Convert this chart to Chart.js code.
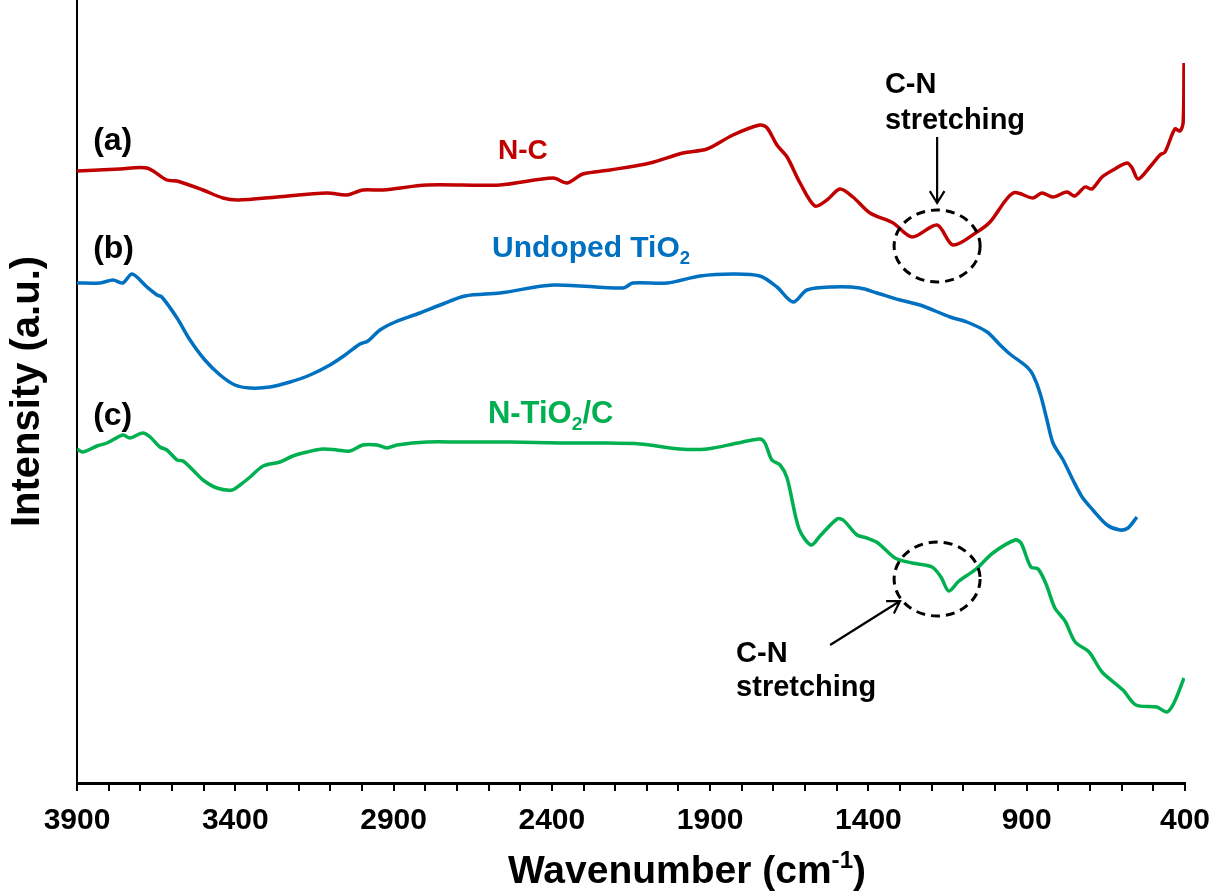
<!DOCTYPE html>
<html>
<head>
<meta charset="utf-8">
<title>FTIR spectra</title>
<script src="https://cdn.jsdelivr.net/npm/chart.js@4.4.1/dist/chart.umd.min.js"></script>
<style>
  body { margin: 0; background: #fff; }
  #wrap { width: 1214px; height: 896px; }
</style>
</head>
<body>
<div id="wrap"><canvas id="ftir" width="1214" height="896"></canvas></div>
<script>
const FONT = '"Liberation Sans", Arial, sans-serif';

// (a) N-C
const ncWave = [3900, 3764, 3679, 3616, 3584, 3502, 3439, 3391, 3268, 3110, 3047, 2997, 2933, 2794, 2564,
  2396, 2352, 2302, 2216, 2090, 1986, 1910, 1828, 1743, 1720, 1689, 1657, 1616, 1569, 1531, 1490, 1449,
  1395, 1322, 1262, 1183, 1133, 1057, 1016, 943, 880, 852, 817, 773, 748, 716, 694, 662, 627, 583, 567,
  548, 511, 479, 463, 432, 416, 406, 403];
const ncInt = [61.2, 61.4, 61.5, 60.3, 60.2, 59.3, 58.5, 58.3, 58.6, 59.0, 58.8, 59.3, 59.3, 59.8, 59.8,
  60.5, 60.0, 60.9, 61.3, 62.0, 63.0, 63.4, 64.8, 65.8, 65.5, 63.8, 62.6, 60.0, 57.7, 58.3, 59.4, 58.6,
  57.0, 56.0, 54.6, 55.8, 53.8, 55.1, 56.1, 59.0, 58.5, 59.0, 58.6, 59.1, 58.7, 59.6, 59.4, 60.6, 61.3, 62.0, 61.5,
  60.4, 61.6, 62.8, 63.1, 65.4, 65.2, 66.0, 72.0];

// (b) undoped TiO2
const tioWave = [3900, 3827, 3786, 3755, 3726, 3679, 3647, 3632, 3584, 3543, 3496, 3448, 3401, 3353, 3290,
  3227, 3164, 3101, 3053, 3006, 2981, 2943, 2895, 2817, 2753, 2674, 2564, 2396, 2175, 2144, 2036, 1932,
  1828, 1743, 1689, 1638, 1594, 1512, 1427, 1373, 1300, 1237, 1142, 1089, 1025, 984, 953, 899, 880, 858,
  836, 817, 785, 754, 725, 691, 646, 605, 580, 552];
const tioInt = [50.0, 50.0, 50.3, 50.0, 50.9, 49.6, 48.8, 48.6, 46.5, 44.3, 42.3, 40.8, 39.8, 39.5, 39.6,
  40.1, 40.8, 41.8, 42.8, 43.9, 44.2, 45.3, 46.1, 47.0, 47.8, 48.7, 49.0, 49.8, 49.5, 50.0, 50.0, 50.7,
  50.9, 50.7, 49.6, 48.1, 49.3, 49.6, 49.5, 49.0, 48.3, 47.8, 46.6, 46.1, 45.1, 43.8, 42.9, 41.6, 40.8, 39.0,
  36.3, 34.0, 32.3, 30.3, 28.6, 27.3, 25.8, 25.3, 25.5, 26.6];

// (c) N-TiO2/C
const ntcWave = [3900, 3881, 3837, 3805, 3755, 3733, 3692, 3669, 3638, 3616, 3584, 3565, 3534, 3502, 3458,
  3410, 3385, 3353, 3312, 3259, 3218, 3173, 3123, 3079, 3038, 2997, 2952, 2921, 2889, 2794, 2690, 2532,
  2374, 2248, 2122, 1995, 1910, 1812, 1743, 1727, 1705, 1679, 1657, 1619, 1581, 1553, 1499, 1480, 1436,
  1405, 1370, 1316, 1262, 1199, 1171, 1146, 1114, 1060, 1007, 937, 918, 887, 864, 839, 811, 779, 747,
  703, 662, 596, 555, 489, 457, 435, 403];
const ntcInt = [33.4, 33.1, 33.7, 34.0, 34.8, 34.5, 35.0, 34.6, 33.6, 33.3, 32.3, 32.2, 31.3, 30.3, 29.5,
  29.3, 29.8, 30.6, 31.7, 32.1, 32.7, 33.1, 33.4, 33.3, 33.2, 33.8, 33.8, 33.5, 33.8, 34.1, 34.1, 34.1,
  34.0, 34.0, 33.9, 33.4, 33.4, 34.0, 34.4, 34.0, 32.3, 31.8, 30.5, 25.4, 23.8, 24.7, 26.4, 26.3, 24.8,
  24.5, 24.0, 22.5, 22.0, 21.6, 20.6, 19.2, 20.2, 21.4, 23.0, 24.3, 24.0, 21.6, 21.4, 19.9, 17.5, 16.2, 14.1,
  13.1, 11.1, 9.3, 7.8, 7.6, 7.1, 8.0, 10.5];

// x axis: wavenumber, reversed
const waveMin = 400;
const waveMax = 3900;
const labelStep = 500;
const minorStep = 100;

const toPoints = (xs, ys) => xs.map((v, i) => ({ x: v, y: ys[i] }));

// draw text made of pieces; shift 1 = subscript, -1 = superscript
function richText(ctx, parts, x, y, size, color, align) {
  const small = size * 0.62;
  let total = 0;
  parts.forEach(([t, s]) => {
    ctx.font = 'bold ' + (s ? small : size) + 'px ' + FONT;
    total += ctx.measureText(t).width;
  });
  let cx = align === 'center' ? x - total / 2 : x;
  ctx.fillStyle = color;
  ctx.textBaseline = 'alphabetic';
  ctx.textAlign = 'left';
  parts.forEach(([t, s]) => {
    ctx.font = 'bold ' + (s ? small : size) + 'px ' + FONT;
    const dy = s === 1 ? size * 0.22 : s === -1 ? -size * 0.38 : 0;
    ctx.fillText(t, cx, y + dy);
    cx += ctx.measureText(t).width;
  });
}

function arrow(ctx, x1, y1, x2, y2) {
  const a = Math.atan2(y2 - y1, x2 - x1);
  const h = 14;
  ctx.beginPath();
  ctx.moveTo(x1, y1);
  ctx.lineTo(x2, y2);
  ctx.moveTo(x2 - h * Math.cos(a - 0.55), y2 - h * Math.sin(a - 0.55));
  ctx.lineTo(x2, y2);
  ctx.lineTo(x2 - h * Math.cos(a + 0.55), y2 - h * Math.sin(a + 0.55));
  ctx.stroke();
}

function dashedEllipse(ctx, cx, cy, rx, ry) {
  ctx.save();
  ctx.setLineDash([9, 6]);
  ctx.lineWidth = 3;
  ctx.beginPath();
  ctx.ellipse(cx, cy, rx, ry, 0, 0, Math.PI * 2);
  ctx.stroke();
  ctx.restore();
}

const annotations = {
  id: 'annotations',
  afterDraw(chart) {
    const { ctx, scales: { x, y } } = chart;
    const px = v => x.getPixelForValue(v);
    const py = v => y.getPixelForValue(v);
    ctx.save();

    richText(ctx, [['(a)', 0]], px(3849), py(63.3), 32, '#000');
    richText(ctx, [['(b)', 0]], px(3849), py(52.5), 32, '#000');
    richText(ctx, [['(c)', 0]], px(3849), py(35.8), 32, '#000');

    richText(ctx, [['N-C', 0]], px(2570), py(62.4), 28, '#C00000');
    richText(ctx, [['Undoped TiO', 0], ['2', 1]], px(2589), py(52.6), 30, '#0070C0');
    richText(ctx, [['N-TiO', 0], ['2', 1], ['/C', 0]], px(2602), py(36.0), 31, '#00B050');

    richText(ctx, [['C-N', 0]], px(1348), py(69.0), 29, '#000');
    richText(ctx, [['stretching', 0]], px(1348), py(65.4), 29, '#000');
    richText(ctx, [['C-N', 0]], px(1818), py(12.1), 29, '#000');
    richText(ctx, [['stretching', 0]], px(1818), py(8.7), 29, '#000');

    ctx.strokeStyle = '#000';
    dashedEllipse(ctx, px(1183), py(53.7), 43, 36);
    dashedEllipse(ctx, px(1183), py(20.4), 43, 37);

    ctx.lineWidth = 2.2;
    arrow(ctx, px(1183), py(64.6), px(1183), py(58.0));
    arrow(ctx, px(1521), py(13.8), px(1300), py(18.2));

    // x axis title, superscript -1
    richText(ctx, [['Wavenumber (cm', 0], ['-1', -1], [')', 0]], px(1973), 883, 39, '#000', 'center');
    ctx.restore();
  }
};

const lineStyle = color => ({
  showLine: true,
  borderColor: color,
  backgroundColor: color,
  borderWidth: 3.5,
  pointRadius: 0,
  tension: 0.3,
  fill: false
});

new Chart(document.getElementById('ftir'), {
  type: 'scatter',
  data: {
    datasets: [
      { label: 'N-C', data: toPoints(ncWave, ncInt), ...lineStyle('#C00000') },
      { label: 'Undoped TiO2', data: toPoints(tioWave, tioInt), ...lineStyle('#0070C0') },
      { label: 'N-TiO2/C', data: toPoints(ntcWave, ntcInt), ...lineStyle('#00B050') }
    ]
  },
  options: {
    responsive: false,
    animation: false,
    devicePixelRatio: 1,
    layout: { padding: { top: 0, right: 29, bottom: 0, left: 0 } },
    plugins: { legend: { display: false }, tooltip: { enabled: false } },
    scales: {
      x: {
        type: 'linear',
        reverse: true,
        min: waveMin,
        max: waveMax,
        afterFit: s => { s.height = 113; s.paddingLeft = 0; s.paddingRight = 0; },
        ticks: {
          stepSize: minorStep,
          autoSkip: false,
          maxRotation: 0,
          padding: 12,
          color: '#000',
          font: { family: FONT, size: 30, weight: 'bold' },
          callback: v => (v - waveMin) % labelStep === 0 ? String(v) : ''
        },
        grid: { drawOnChartArea: false, tickLength: 8, color: '#000', lineWidth: 2 },
        border: { color: '#000', width: 3 }
      },
      y: {
        min: 0,
        max: 78.3,
        afterFit: s => { s.width = 77; },
        ticks: { display: false },
        grid: { display: false },
        border: { color: '#000', width: 2 },
        title: {
          display: true,
          text: 'Intensity (a.u.)',
          color: '#000',
          font: { family: FONT, size: 40, weight: 'bold' },
          padding: { top: 4, bottom: 0 }
        }
      }
    }
  },
  plugins: [annotations]
});
</script>
</body>
</html>
